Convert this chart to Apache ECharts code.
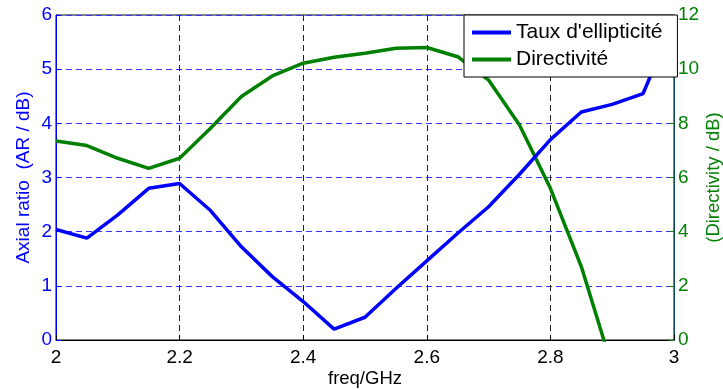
<!DOCTYPE html>
<html>
<head>
<meta charset="utf-8">
<script src="https://cdn.jsdelivr.net/npm/echarts@6/dist/echarts.min.js"></script>
<style>
html,body{margin:0;padding:0;background:#fff;}
#c{width:723px;height:390px;}
</style>
</head>
<body>
<div id="c"></div>
<script>
const freq = [2.00, 2.05, 2.10, 2.15, 2.20, 2.25, 2.30, 2.35, 2.40, 2.45, 2.50, 2.55, 2.60, 2.65, 2.70, 2.75, 2.80, 2.85, 2.90, 2.95, 3.00];
const axialRatio = [2.04, 1.88, 2.31, 2.80, 2.89, 2.39, 1.72, 1.17, 0.71, 0.20, 0.42, 0.95, 1.46, 1.97, 2.46, 3.06, 3.70, 4.21, 4.35, 4.55, 5.90];
const directivity = [7.35, 7.18, 6.71, 6.34, 6.71, 7.82, 8.99, 9.75, 10.22, 10.44, 10.59, 10.77, 10.80, 10.46, 9.60, 7.94, 5.60, 2.71, -1.0, null, null];
const seriesNames = ["Taux d'ellipticité", "Directivité"];
const xTicks = [2, 2.2, 2.4, 2.6, 2.8, 3];

const FONT = 'Liberation Sans, Arial, sans-serif';
const chart = echarts.init(document.getElementById('c'), null, {renderer: 'canvas'});
const option = {
  animation: false,
  backgroundColor: '#ffffff',
  textStyle: {fontFamily: FONT},
  grid: {left: 56, right: 49, top: 15, bottom: 50, show: true, borderColor: '#000', borderWidth: 1,
    backgroundColor: 'transparent', containLabel: false, outerBoundsMode: 'none'},
  legend: {
    left: 464, top: 15, orient: 'vertical',
    backgroundColor: '#fff', borderColor: '#000', borderWidth: 1, borderRadius: 0,
    padding: [7, 15, 7, 8], itemGap: 6,
    icon: 'rect', itemWidth: 39, itemHeight: 4,
    textStyle: {fontSize: 21, color: '#000', lineHeight: 21, fontFamily: FONT},
    data: seriesNames
  },
  xAxis: {
    type: 'value', min: 2, max: 3, interval: 0.2,
    name: 'freq/GHz', nameLocation: 'middle', nameGap: 29, nameMoveOverlap: false,
    nameTextStyle: {fontSize: 18.5, color: '#000', fontFamily: FONT},
    axisLine: {show: true, onZero: false, lineStyle: {color: '#000', width: 1}},
    axisTick: {show: true, inside: true, length: 5, lineStyle: {color: '#000'}},
    axisLabel: {fontSize: 19, color: '#000', margin: 8, fontFamily: FONT,
      formatter: v => { const t = xTicks.find(x => Math.abs(x - v) < 1e-6); return t === undefined ? '' : String(t); }},
    splitLine: {show: true, lineStyle: {color: '#222', type: [6, 4], width: 1}}
  },
  yAxis: [
    {
      type: 'value', min: 0, max: 6, interval: 1, position: 'left',
      name: 'Axial ratio  (AR / dB)', nameLocation: 'middle', nameGap: 23, nameRotate: 90, nameMoveOverlap: false,
      nameTextStyle: {fontSize: 19, color: '#0000ff', fontFamily: FONT},
      axisLine: {show: true, lineStyle: {color: '#0000ff', width: 1}},
      axisTick: {show: true, inside: true, length: 5, lineStyle: {color: '#0000ff'}},
      axisLabel: {fontSize: 19, color: '#0000ff', margin: 4, fontFamily: FONT},
      splitLine: {show: true, lineStyle: {color: '#3535ff', type: [6, 4], width: 1}}
    },
    {
      type: 'value', min: 0, max: 12, interval: 2, position: 'right',
      name: '(Directivity / dB)', nameLocation: 'middle', nameGap: 30, nameRotate: 90, nameMoveOverlap: false,
      nameTextStyle: {fontSize: 18.5, color: '#008000', fontFamily: FONT},
      axisLine: {show: true, lineStyle: {color: '#0d4d5a', width: 1}},
      axisTick: {show: true, inside: true, length: 5, lineStyle: {color: '#008000'}},
      axisLabel: {fontSize: 19, color: '#008000', margin: 4, fontFamily: FONT},
      splitLine: {show: false}
    }
  ],
  series: [
    {
      name: seriesNames[0], type: 'line', yAxisIndex: 0,
      data: freq.map((f, i) => [f, axialRatio[i]]),
      showSymbol: false, symbol: 'none', clip: true,
      lineStyle: {color: '#0000ff', width: 3.5},
      itemStyle: {color: '#0000ff'}, z: 3
    },
    {
      name: seriesNames[1], type: 'line', yAxisIndex: 1,
      data: freq.map((f, i) => [f, directivity[i]]),
      showSymbol: false, symbol: 'none', clip: true,
      lineStyle: {color: '#008000', width: 3.5},
      itemStyle: {color: '#008000'}, z: 2
    }
  ]
};
chart.setOption(option);
</script>
</body>
</html>
